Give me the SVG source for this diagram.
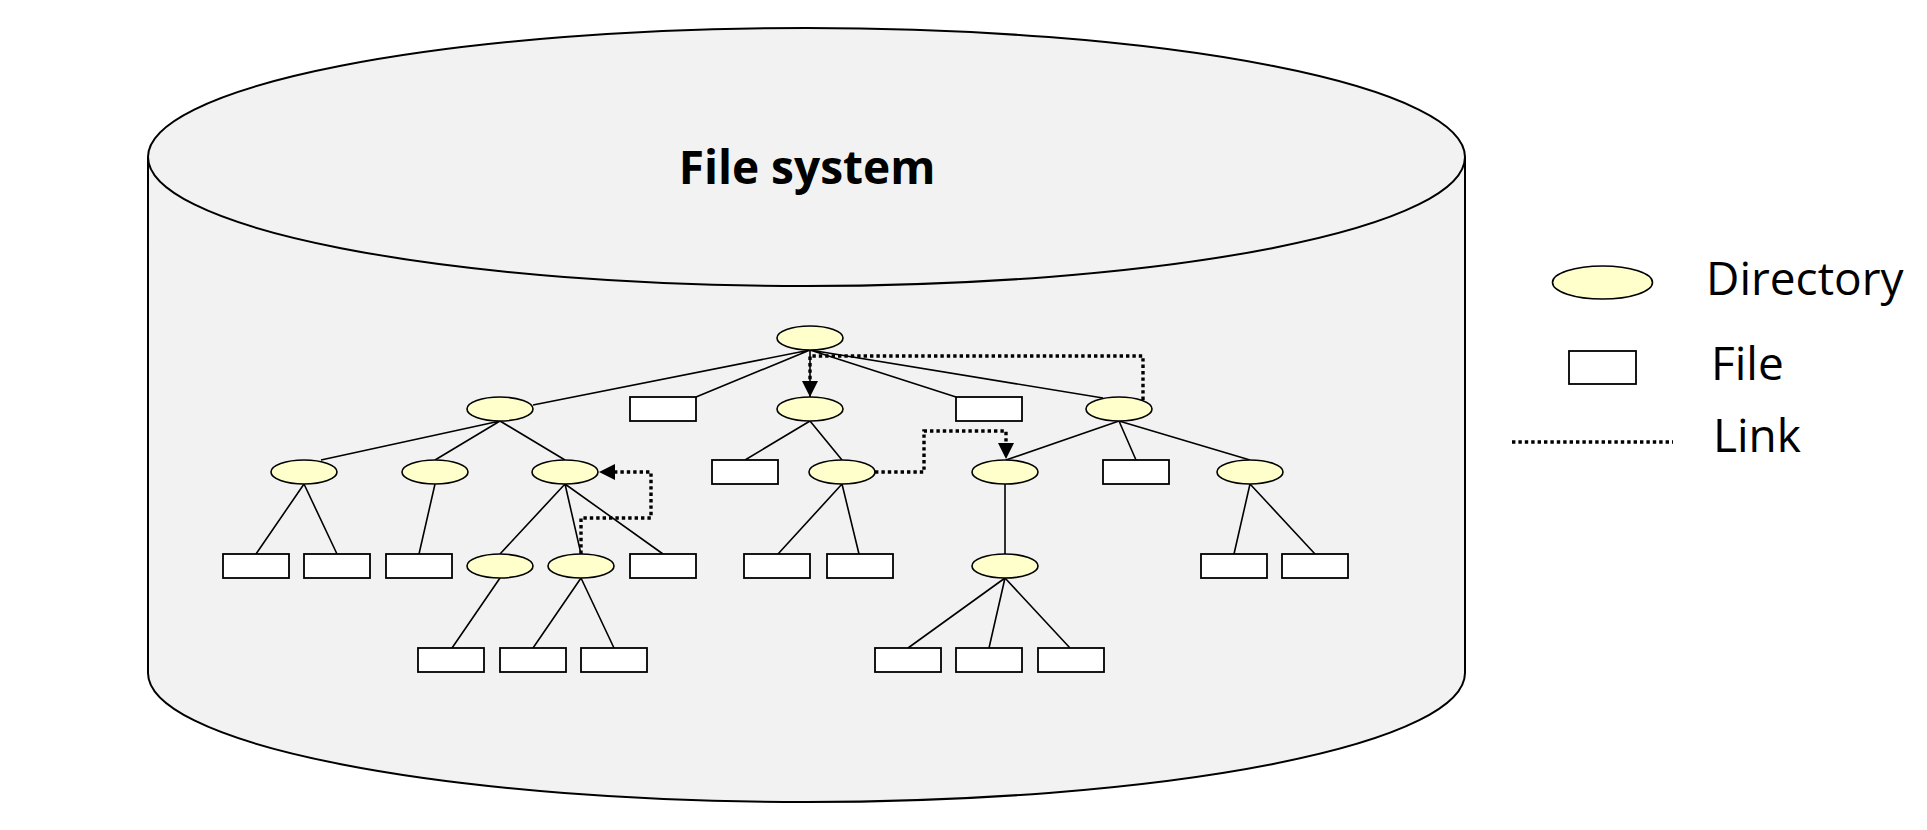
<svg xmlns="http://www.w3.org/2000/svg" width="1927" height="830" viewBox="0 0 1927 830">
<defs>
<style>
.cyl{fill:#f2f2f2;stroke:#000;stroke-width:2}
.dir{fill:#ffffcc;stroke:#000;stroke-width:1.6}
.file{fill:#fff;stroke:#000;stroke-width:1.8}
.edge{stroke:#000;stroke-width:1.6;fill:none}
.link{stroke:#000;stroke-width:3.4;fill:none;stroke-dasharray:3.4 3}
.title{font-family:"Open Sans","Noto Sans",sans-serif;font-weight:bold;font-size:46px;fill:#000}
.leg{font-family:"Open Sans","Noto Sans",sans-serif;font-size:46px;fill:#000}
</style>
<marker id="arr" markerUnits="userSpaceOnUse" markerWidth="16" markerHeight="16" refX="0" refY="8" orient="auto" overflow="visible">
<path d="M0,0 L16,8 L0,16 Z" fill="#000"/>
</marker>
</defs>
<rect width="1927" height="830" fill="#fff"/>
<g id="filesystem">
<path class="cyl" d="M148,157 A658.5,129 0 0 1 1465,157 L1465,673 A658.5,129 0 0 1 148,673 Z"/>
<path class="cyl" fill="none" d="M148,157 A658.5,129 0 0 0 1465,157"/>
<text class="title" x="807" y="184" text-anchor="middle">File system</text>
</g>
<g id="connectors">
<path class="edge" d="M810,350 L533,405 M810,350 L696,397 M810,350 L810,397 M810,350 L956,397 M810,350 L1103,398"/>
<path class="edge" d="M500,421 L321,460 M500,421 L435,460 M500,421 L565,460"/>
<path class="edge" d="M304,484 L256,554 M304,484 L337,554 M435,484 L419,554"/>
<path class="edge" d="M565,484 L500,554 M565,484 L581,554 M565,484 L663,554"/>
<path class="edge" d="M500,578 L452,648 M581,578 L533,648 M581,578 L614,648"/>
<path class="edge" d="M810,421 L745,460 M810,421 L842,460 M842,484 L778,554 M842,484 L859,554"/>
<path class="edge" d="M1119,421 L1006,460 M1119,421 L1136,460 M1119,421 L1250,460"/>
<path class="edge" d="M1005,484 L1005,554 M1005,578 L908,648 M1005,578 L989,648 M1005,578 L1070,648"/>
<path class="edge" d="M1250,484 L1234,554 M1250,484 L1315,554"/>
<path class="link" marker-end="url(#arr)" d="M581,554 L581,518 L651,518 L651,472 L615,472"/>
<path class="link" marker-end="url(#arr)" d="M875,472 L924,472 L924,431 L1006,431 L1006,443"/>
<path class="link" marker-end="url(#arr)" d="M1143,400 L1143,356 L810,356 L810,381"/>
</g>
<g id="nodes">
<ellipse id="d0" class="dir" cx="810" cy="338" rx="33" ry="12"/>
<ellipse id="d1a" class="dir" cx="500" cy="409" rx="33" ry="12"/>
<rect id="f1a" class="file" x="630" y="397" width="66" height="24"/>
<ellipse id="d1b" class="dir" cx="810" cy="409" rx="33" ry="12"/>
<rect id="f1b" class="file" x="956" y="397" width="66" height="24"/>
<ellipse id="d1c" class="dir" cx="1119" cy="409" rx="33" ry="12"/>
<ellipse id="d2a" class="dir" cx="304" cy="472" rx="33" ry="12"/>
<ellipse id="d2b" class="dir" cx="435" cy="472" rx="33" ry="12"/>
<ellipse id="d2c" class="dir" cx="565" cy="472" rx="33" ry="12"/>
<rect id="f2a" class="file" x="712" y="460" width="66" height="24"/>
<ellipse id="d2d" class="dir" cx="842" cy="472" rx="33" ry="12"/>
<ellipse id="d2e" class="dir" cx="1005" cy="472" rx="33" ry="12"/>
<rect id="f2b" class="file" x="1103" y="460" width="66" height="24"/>
<ellipse id="d2f" class="dir" cx="1250" cy="472" rx="33" ry="12"/>
<rect id="f3a" class="file" x="223" y="554" width="66" height="24"/>
<rect id="f3b" class="file" x="304" y="554" width="66" height="24"/>
<rect id="f3c" class="file" x="386" y="554" width="66" height="24"/>
<ellipse id="d3a" class="dir" cx="500" cy="566" rx="33" ry="12"/>
<ellipse id="d3b" class="dir" cx="581" cy="566" rx="33" ry="12"/>
<rect id="f3d" class="file" x="630" y="554" width="66" height="24"/>
<rect id="f3e" class="file" x="744" y="554" width="66" height="24"/>
<rect id="f3f" class="file" x="827" y="554" width="66" height="24"/>
<ellipse id="d3c" class="dir" cx="1005" cy="566" rx="33" ry="12"/>
<rect id="f3g" class="file" x="1201" y="554" width="66" height="24"/>
<rect id="f3h" class="file" x="1282" y="554" width="66" height="24"/>
<rect id="f4a" class="file" x="418" y="648" width="66" height="24"/>
<rect id="f4b" class="file" x="500" y="648" width="66" height="24"/>
<rect id="f4c" class="file" x="581" y="648" width="66" height="24"/>
<rect id="f4d" class="file" x="875" y="648" width="66" height="24"/>
<rect id="f4e" class="file" x="956" y="648" width="66" height="24"/>
<rect id="f4f" class="file" x="1038" y="648" width="66" height="24"/>
</g>
<g id="legend">
<ellipse class="dir" cx="1602.5" cy="282.5" rx="50" ry="16.5"/>
<text class="leg" x="1706" y="295">Directory</text>
<rect class="file" x="1569" y="351" width="67" height="33" stroke-width="1.6"/>
<text class="leg" x="1711" y="380">File</text>
<line class="link" x1="1512" y1="442" x2="1673" y2="442"/>
<text class="leg" x="1713" y="452">Link</text>
</g>
</svg>
